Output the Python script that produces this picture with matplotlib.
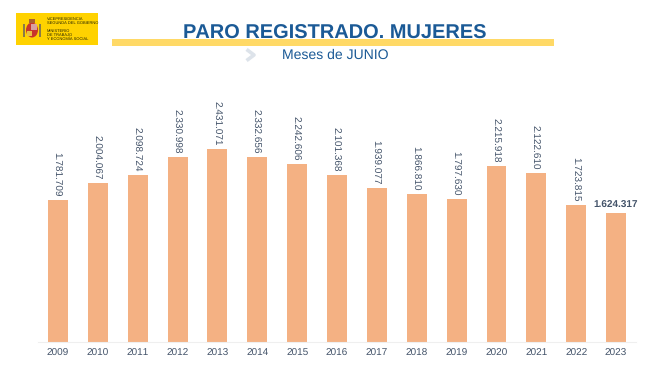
import matplotlib
matplotlib.use("Agg")
import matplotlib.pyplot as plt
from matplotlib.patches import Rectangle, Ellipse

plt.rcParams['font.family'] = ['Liberation Sans', 'DejaVu Sans']
plt.rcParams['text.hinting'] = 'no_hinting'
plt.rcParams['text.hinting_factor'] = 1

years = [2009, 2010, 2011, 2012, 2013, 2014, 2015, 2016,
         2017, 2018, 2019, 2020, 2021, 2022, 2023]
paro = [1781709, 2004067, 2098724, 2330998, 2431071, 2332656, 2242606, 2101368,
        1939077, 1866810, 1797630, 2215918, 2122610, 1723815, 1624317]

W, H = 670, 376
text_col = '#44546A'
blue = '#1B5A96'


def fmt(v):
    return f"{v:,}".replace(",", ".")


fig = plt.figure(figsize=(6.7, 3.76), dpi=100)
ax = fig.add_axes([38 / W, 1 - 341.5 / H, 598 / W, 251.5 / H])

ax.bar(range(len(years)), paro, width=0.5, color='#F4B183')
ax.set_xlim(-0.5, len(years) - 0.5)
ax.set_ylim(0, 3176000)
ax.set_xticks(range(len(years)))
ax.set_xticklabels(years, fontsize=7.2, color=text_col)
ax.tick_params(axis='x', length=0, pad=5)
ax.set_yticks([])
for s in ['top', 'left', 'right']:
    ax.spines[s].set_visible(False)
ax.spines['bottom'].set_color('#EFEFEF')

for i, v in enumerate(paro):
    if years[i] == 2023:
        ax.annotate(fmt(v), (i, v), xytext=(0, 2), textcoords='offset points',
                    ha='center', va='bottom', fontsize=7.5, fontweight='bold', color=text_col)
    else:
        ax.annotate(fmt(v), (i, v), xytext=(-1.2, 2.5), textcoords='offset points',
                    ha='center', va='bottom', rotation=270, fontsize=7.4, color=text_col)

# page furniture, in figure pixels
bg = fig.add_axes([0, 0, 1, 1], zorder=-1)
bg.set_xlim(0, W)
bg.set_ylim(H, 0)
bg.axis('off')

bg.add_patch(Rectangle((112, 39), 442, 7, color='#FFD966', lw=0))
bg.text(334.5, 34, "PARO REGISTRADO. MUJERES", ha='center', va='center',
        fontsize=14.2, fontweight='bold', color=blue)
bg.text(335, 55, "Meses de JUNIO", ha='center', va='center', fontsize=10, color=blue)
bg.plot([248, 254, 248], [50.5, 55, 59.5], color='#DDE3EA', lw=2.6)

# logo
bg.add_patch(Rectangle((16, 13), 82, 32, color='#FFD200', lw=0))
bg.add_patch(Ellipse((32, 30), 12, 15, color='#C8352B', lw=0))
bg.add_patch(Rectangle((31, 24), 6, 6, color='#D8A0A0', lw=0))
bg.add_patch(Rectangle((27, 31), 5, 5, color='#E8C040', lw=0))
bg.add_patch(Rectangle((29, 19), 6, 4, color='#A8622E', lw=0))
bg.add_patch(Rectangle((22.5, 24), 2.5, 13, color='#8A7A4A', lw=0))
bg.add_patch(Rectangle((38.5, 24), 2.5, 13, color='#8A7A4A', lw=0))
bg.text(47, 18.5, "VICEPRESIDENCIA", fontsize=2.7, va='center', color='#222200')
bg.text(47, 22.5, "SEGUNDA DEL GOBIERNO", fontsize=2.7, va='center', color='#222200')
bg.text(47, 30.5, "MINISTERIO", fontsize=2.7, va='center', color='#222200')
bg.text(47, 34.5, "DE TRABAJO", fontsize=2.7, va='center', color='#222200')
bg.text(47, 38.5, "Y ECONOMÍA SOCIAL", fontsize=2.7, va='center', color='#222200')

fig.savefig('out.png', dpi=100)
